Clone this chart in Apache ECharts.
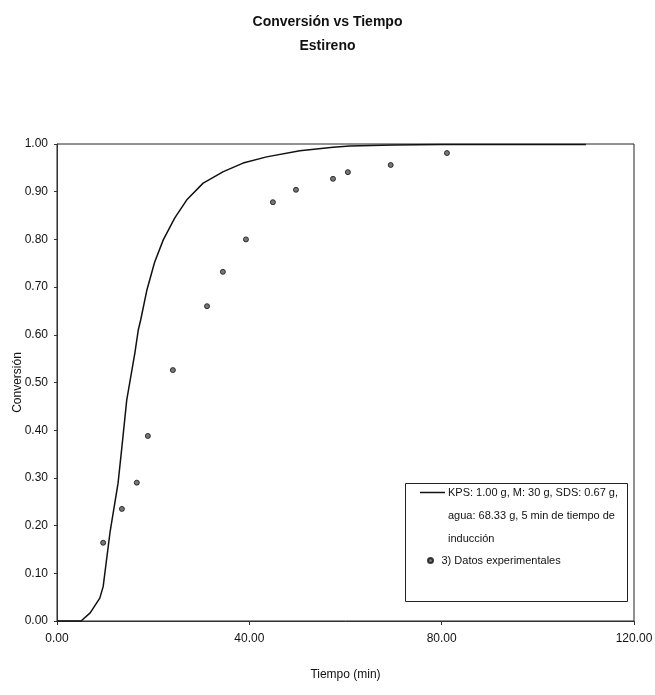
<!DOCTYPE html>
<html>
<head>
<meta charset="utf-8">
<script src="https://cdn.jsdelivr.net/npm/echarts@6/dist/echarts.min.js"></script>
<style>
  html, body { margin: 0; padding: 0; background: #fff; }
  #main { width: 655px; height: 695px; }
</style>
</head>
<body>
<div id="main"></div>
<script>
// Conversión vs Tiempo - Estireno
var FONT = "'Liberation Sans', Arial, sans-serif";

// curva del modelo (tiempo, conversión)
var modeloT = [0, 5.0, 6.9, 8.9, 9.6, 11.0, 12.7, 13.5, 14.5, 16.2, 16.9, 17.4, 18.7, 20.3, 22.1, 24.5, 27.0, 30.4, 34.6, 38.7, 43.6, 50.5, 57.4, 60.9, 70, 80, 90, 100, 110];
var modeloX = [0, 0, 0.017, 0.048, 0.072, 0.184, 0.289, 0.365, 0.463, 0.562, 0.610, 0.631, 0.694, 0.752, 0.799, 0.845, 0.883, 0.918, 0.942, 0.960, 0.973, 0.986, 0.993, 0.996, 0.998, 0.999, 0.999, 0.999, 0.999];

// datos experimentales
var expT = [9.6, 13.5, 16.6, 18.9, 24.1, 31.2, 34.5, 39.3, 44.9, 49.7, 57.4, 60.5, 69.4, 81.1];
var expX = [0.164, 0.235, 0.290, 0.388, 0.526, 0.660, 0.732, 0.800, 0.878, 0.904, 0.927, 0.941, 0.956, 0.981];

var nombreModelo = 'KPS: 1.00 g, M: 30 g, SDS: 0.67 g,';
var nombreExp = '3) Datos experimentales';

function pares(a, b) {
    return a.map(function (v, i) { return [v, b[i]]; });
}

function txt(size, bold) {
    return { fontFamily: FONT, fontSize: size, fontWeight: bold ? 'bold' : 'normal', color: '#111' };
}

var chart = echarts.init(document.getElementById('main'));
var option = {
    backgroundColor: '#fff',
    animation: false,
    textStyle: { fontFamily: FONT },
    title: [
        { text: 'Conversión vs Tiempo', left: 'center', top: 10, textStyle: txt(14, true) },
        { text: 'Estireno', left: 'center', top: 34, textStyle: txt(14, true) }
    ],
    grid: {
        left: 57, right: 21, top: 144, bottom: 74,
        outerBoundsMode: 'none', containLabel: false,
        show: true, borderColor: '#222', borderWidth: 1
    },
    xAxis: {
        type: 'value', min: 0, max: 120, interval: 40,
        name: 'Tiempo (min)', nameLocation: 'middle', nameGap: 48, nameMoveOverlap: false,
        nameTextStyle: txt(12),
        axisLine: { lineStyle: { color: '#333' } },
        axisTick: { length: 4, lineStyle: { color: '#333' } },
        axisLabel: Object.assign(txt(12), { margin: 12,
                     formatter: function (v) { return v.toFixed(2); } }),
        splitLine: { show: false }
    },
    yAxis: {
        type: 'value', min: 0, max: 1, interval: 0.1,
        name: 'Conversión', nameLocation: 'middle', nameGap: 33, nameMoveOverlap: false,
        nameTextStyle: txt(12),
        axisLine: { show: true, lineStyle: { color: '#333' } },
        axisTick: { show: true, length: 3, lineStyle: { color: '#333' } },
        axisLabel: Object.assign(txt(12), { margin: 9,
                     formatter: function (v) { return v.toFixed(2); } }),
        splitLine: { show: false }
    },
    legend: [
        {
            data: [{ name: nombreModelo, icon: 'rect' }],
            left: 420, top: 487, itemWidth: 25, itemHeight: 1.5, itemGap: 2, padding: 0,
            textStyle: Object.assign(txt(11), { padding: [0, 0, 0, -2] }),
            selectedMode: false
        },
        {
            data: [{ name: nombreExp, icon: 'circle' }],
            left: 427, top: 555, itemWidth: 6, itemHeight: 5, itemGap: 2, padding: 0,
            textStyle: Object.assign(txt(11), { padding: [0, 0, 0, 3] }),
            selectedMode: false
        }
    ],
    graphic: [
        { type: 'rect', z: 0, shape: { x: 405.5, y: 483.5, width: 222, height: 118 },
          style: { fill: '#fff', stroke: '#222', lineWidth: 1 } },
        { type: 'text', z: 5, left: 448, top: 510,
          style: { text: 'agua: 68.33 g, 5 min de tiempo de', font: '11px ' + FONT, fill: '#111' } },
        { type: 'text', z: 5, left: 448, top: 533,
          style: { text: 'inducción', font: '11px ' + FONT, fill: '#111' } }
    ],
    series: [
        {
            name: nombreModelo, type: 'line', data: pares(modeloT, modeloX),
            smooth: false, showSymbol: false, symbol: 'none',
            lineStyle: { color: '#111', width: 1.5 }, itemStyle: { color: '#111' }, z: 3
        },
        {
            name: nombreExp, type: 'scatter', data: pares(expT, expX),
            symbol: 'circle', symbolSize: 5,
            itemStyle: { color: '#555', borderColor: '#111', borderWidth: 1 }, z: 4
        }
    ]
};
chart.setOption(option);
</script>
</body>
</html>
